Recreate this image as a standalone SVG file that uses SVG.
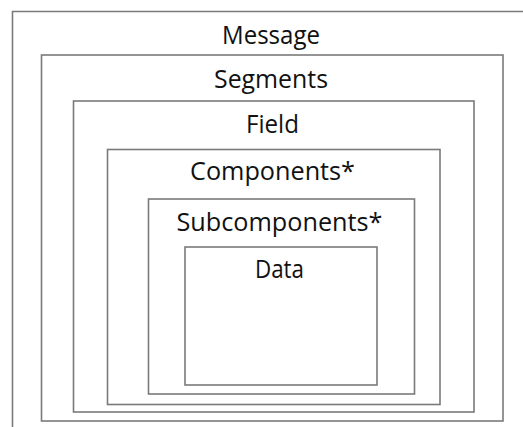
<svg xmlns="http://www.w3.org/2000/svg" width="523" height="427" viewBox="0 0 523 427">
  <style>
    .box { fill: none; stroke: #7a7a7a; stroke-width: 1.6; }
    .lbl { font-family: "Open Sans", "Liberation Sans", sans-serif; font-size: 25px; fill: #111; text-anchor: middle; }
  </style>
  <rect width="523" height="427" fill="#ffffff"/>
  <g id="message">
    <path class="box" d="M12.5,427 V11.5 H523"/>
    <text class="lbl" x="271" y="43.5" textLength="98" lengthAdjust="spacingAndGlyphs">Message</text>
  </g>
  <g id="segments">
    <rect class="box" x="41.5" y="55" width="461.5" height="366"/>
    <text class="lbl" x="271" y="87.5" textLength="114" lengthAdjust="spacingAndGlyphs">Segments</text>
  </g>
  <g id="field">
    <rect class="box" x="73.5" y="101" width="400.5" height="311"/>
    <text class="lbl" x="272.5" y="132.5" textLength="53" lengthAdjust="spacingAndGlyphs">Field</text>
  </g>
  <g id="components">
    <rect class="box" x="107.5" y="149.5" width="332.5" height="255"/>
    <text class="lbl" x="272.5" y="179.5" textLength="165" lengthAdjust="spacingAndGlyphs">Components*</text>
  </g>
  <g id="subcomponents">
    <rect class="box" x="148.5" y="199" width="266" height="195"/>
    <text class="lbl" x="279.5" y="230.5" textLength="206" lengthAdjust="spacingAndGlyphs">Subcomponents*</text>
  </g>
  <g id="data">
    <rect class="box" x="185" y="247" width="192" height="138"/>
    <text class="lbl" x="279.5" y="277.5" textLength="49" lengthAdjust="spacingAndGlyphs">Data</text>
  </g>
  <g id="connectors"/>
</svg>
